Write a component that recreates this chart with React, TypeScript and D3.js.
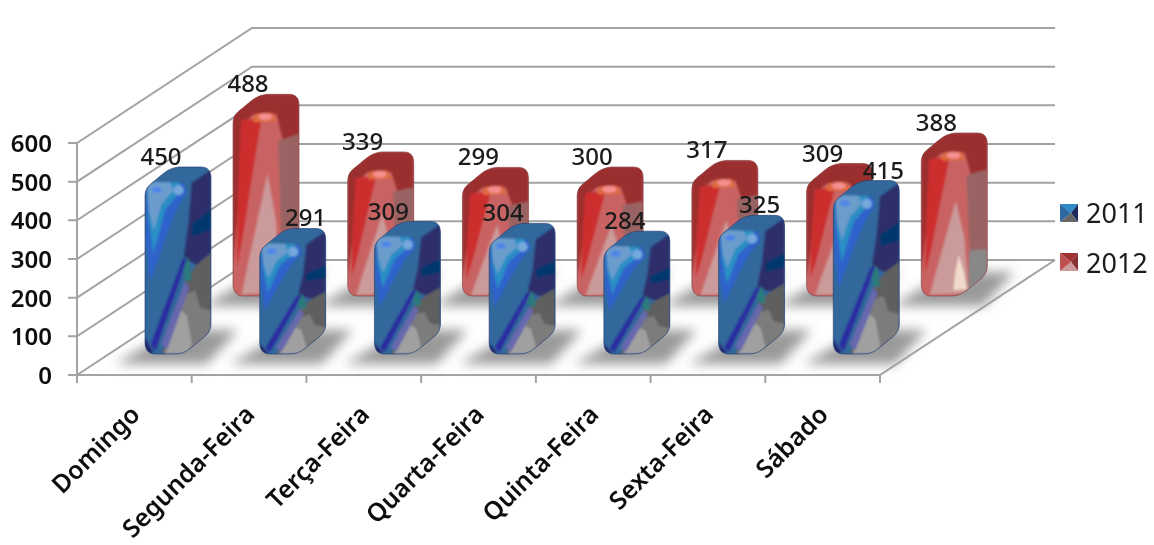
import React from "react";
import * as d3 from "d3";

const categories = ["Domingo", "Segunda-Feira", "Terça-Feira", "Quarta-Feira", "Quinta-Feira", "Sexta-Feira", "Sábado"];
const values2011 = [450, 291, 309, 304, 284, 325, 415];
const values2012 = [488, 339, 299, 300, 317, 309, 388];
const yTicks = [0, 100, 200, 300, 400, 500, 600];
const seriesNames = ["2011", "2012"];

// Layout of the pseudo-3D box
const AX_L = 77, AX_R = 880, AX_B = 375, AX_T = 143;
const WALL_DX = 175, WALL_DY = -115;
const BAR_W = 66, BAR_DY = 13, BAR_OFFSET = 68;
const SERIES_DX = 88, SERIES_DY = -57, BAR_BASE = 354;
const labelShift2011 = [16, 46, 14, 14, 21, 41, 50];
const labelShift2012 = [15, 15, 16, 15, 15, 16, 15];

const x = d3.scaleBand<string>().domain(categories).range([AX_L, AX_R]).paddingInner(0).paddingOuter(0);
const y = d3.scaleLinear().domain([0, 600]).range([AX_B, AX_T]);
const hgt = (v: number) => AX_B - y(v);
const line = d3.line<[number, number]>();

type Patch = { fill: string; pts: [number, number][] };

// Shading templates: a reference bar of 197 x 560 units
const bluePatches: Patch[] = [
  { fill: "#2e63cc", pts: [[4, 62], [30, 48], [115, 48], [125, 75], [95, 125], [60, 215], [16, 345], [3, 220]] },
  { fill: "#2c8fc4", pts: [[6, 58], [30, 46], [105, 46], [100, 78], [60, 130], [25, 260], [10, 150]] },
  { fill: "#6c9ccc", pts: [[6, 55], [30, 44], [75, 46], [85, 70], [50, 110], [26, 190], [12, 130]] },
  { fill: "#2e2f6b", pts: [[140, 48], [197, 8], [197, 258], [155, 293], [115, 273], [130, 170]] },
  { fill: "#00386e", pts: [[140, 170], [197, 128], [197, 188], [140, 208]] },
  { fill: "#5e5e5e", pts: [[122, 335], [155, 293], [197, 258], [197, 500], [125, 560], [50, 560]] },
  { fill: "#7c7c7c", pts: [[108, 385], [150, 370], [165, 420], [197, 430], [197, 500], [125, 560], [55, 560]] },
  { fill: "#a0a0a0", pts: [[98, 420], [125, 445], [140, 530], [125, 560], [60, 560]] },
  { fill: "#6868ae", pts: [[120, 340], [132, 362], [66, 548], [48, 530]] },
  { fill: "#2c7c7c", pts: [[110, 265], [130, 275], [140, 340], [120, 340]] },
  { fill: "#2b2ba0", pts: [[115, 270], [125, 275], [30, 552], [18, 530]] },
  { fill: "#25256f", pts: [[0, 510], [25, 556], [8, 560], [0, 540]] },
];

const redPatches: Patch[] = [
  { fill: "#9b2f2f", pts: [[0, 60], [75, 0], [197, 0], [197, 125], [150, 140], [130, 60], [60, 60], [30, 90], [15, 320], [0, 480]] },
  { fill: "#9a6464", pts: [[135, 135], [197, 115], [197, 420], [145, 430]] },
  { fill: "#888888", pts: [[143, 400], [197, 395], [197, 510], [140, 560]] },
  { fill: "#cc2f2f", pts: [[24, 78], [85, 72], [62, 200], [32, 380], [12, 480], [14, 300]] },
  { fill: "#df6a40", pts: [[58, 74], [70, 58], [118, 56], [132, 80], [65, 84]] },
  { fill: "#cb9a9a", pts: [[103, 225], [128, 350], [142, 550], [26, 556], [38, 500]] },
  { fill: "#f1dacc", pts: [[112, 415], [128, 480], [136, 535], [96, 540], [102, 470]] },
];

function mapPt(L: number, T: number, H: number, p: [number, number]): [number, number] {
  const px = L + (p[0] / 197) * BAR_W;
  const yy = p[1] <= 80 ? p[1] / 3 : 80 / 3 + ((p[1] - 80) / 480) * (H - 80 / 3);
  return [px, T + yy];
}

function outline(L: number, T: number, B: number) {
  const R = L + BAR_W;
  return [
    `M${L},${T + 30}`,
    `C${L},${T + 22} ${L + 3},${T + 19} ${L + 8},${T + 15}`,
    `C${L + 16},${T + 9} ${L + 22},${T + 1} ${L + 34},${T}`,
    `L${L + 56},${T}`,
    `C${R - 3},${T} ${R},${T + 4} ${R},${T + 11}`,
    `L${R},${B - 30}`,
    `C${R},${B - 23} ${R - 4},${B - 19} ${R - 9},${B - 15}`,
    `C${L + 46},${B - 7} ${L + 42},${B} ${L + 30},${B}`,
    `L${L + 10},${B}`,
    `C${L + 3},${B} ${L},${B - 5} ${L},${B - 12}`,
    "Z",
  ].join(" ");
}

function Bar({ id, L, B, value, base, rim, patches, red }: any) {
  const T = B - hgt(value) - BAR_DY;
  const H = B - T;
  const d = outline(L, T, B);
  const hl = mapPt(L, T, H, red ? [96, 67] : [35, 68]);
  const hl2 = mapPt(L, T, H, [100, 70]);
  return (
    <g>
      <clipPath id={id}><path d={d} /></clipPath>
      <path d={d} fill={base} />
      <g clipPath={`url(#${id})`}>
        <g filter="url(#patchSoft)">
          {patches.map((p: Patch, i: number) => (
            <path key={i} d={line(p.pts.map((q) => mapPt(L, T, H, q)))! + "Z"} fill={p.fill} />
          ))}
          <ellipse cx={hl[0]} cy={hl[1]} rx={red ? 7 : 5} ry={red ? 3.5 : 3} fill={red ? "#f58f8f" : "#4f86e8"} />
          {!red && <ellipse cx={hl2[0]} cy={hl2[1]} rx={5} ry={5} fill="#74a8dc" />}
        </g>
      </g>
      <path d={d} fill="none" stroke={rim} strokeWidth={1} strokeOpacity={0.6} />
    </g>
  );
}

function Shadow({ L, B }: { L: number; B: number }) {
  const pts: [number, number][] = [[L - 30, B + 10], [L + 62, B + 10], [L + 93, B - 24], [L + 30, B - 24]];
  return <path d={line(pts)! + "Z"} fill="#9a9a9a" filter="url(#shadowBlur)" />;
}

function Swatch({ sx, sy, c }: { sx: number; sy: number; c: string[] }) {
  const s = 18, m: [number, number] = [sx + s / 2 + 2, sy + s / 2];
  const a: [number, number] = [sx, sy], b: [number, number] = [sx + s, sy], e: [number, number] = [sx + s, sy + s], f: [number, number] = [sx, sy + s];
  return (
    <g>
      <path d={line([a, b, m])! + "Z"} fill={c[0]} />
      <path d={line([b, e, m])! + "Z"} fill={c[1]} />
      <path d={line([e, f, m])! + "Z"} fill={c[2]} />
      <path d={line([f, a, m])! + "Z"} fill={c[3]} />
    </g>
  );
}

export default function App() {
  const gridColor = "#a3a3a3";
  const font = "'Noto Sans', 'Open Sans', sans-serif";
  const blueBars = values2011.map((v, i) => ({ v, L: x(categories[i])! + BAR_OFFSET, B: BAR_BASE, shift: labelShift2011[i] }));
  const redBars = values2012.map((v, i) => ({ v, L: x(categories[i])! + BAR_OFFSET + SERIES_DX, B: BAR_BASE + SERIES_DY - 1, shift: labelShift2012[i] }));
  return (
    <svg width={1154} height={545} style={{ position: "absolute", left: 0, top: 0, background: "#fff" }}>
      <defs>
        <filter id="shadowBlur" x="-30%" y="-60%" width="160%" height="220%"><feGaussianBlur stdDeviation={6} /></filter>
        <filter id="soft" x="-2%" y="-2%" width="104%" height="104%"><feGaussianBlur stdDeviation={0.6} /></filter>
        <filter id="patchSoft" x="-10%" y="-10%" width="120%" height="120%"><feGaussianBlur stdDeviation={1.1} /></filter>
        <clipPath id="pageClip"><rect x={10} y={0} width={1144} height={545} /></clipPath>
      </defs>
      <g clipPath="url(#pageClip)">
      <g filter="url(#soft)">
        {yTicks.map((t) => (
          <path key={t} fill="none" stroke={gridColor} strokeWidth={2}
            d={line([[AX_L - 9, y(t)], [AX_L, y(t)], [AX_L + WALL_DX, y(t) + WALL_DY], [AX_R + WALL_DX, y(t) + WALL_DY]])!} />
        ))}
        <path fill="none" stroke={gridColor} strokeWidth={2}
          d={line([[AX_L, AX_T], [AX_L, AX_B + 8]])!} />
        <path fill="none" stroke={gridColor} strokeWidth={2}
          d={line([[AX_L, AX_B], [AX_R, AX_B], [AX_R + WALL_DX, AX_B + WALL_DY]])!} />
        {categories.map((c) => (
          <line key={c} x1={x(c)!} x2={x(c)!} y1={AX_B} y2={AX_B + 8} stroke={gridColor} strokeWidth={2} />
        ))}
        <line x1={AX_R} x2={AX_R} y1={AX_B} y2={AX_B + 8} stroke={gridColor} strokeWidth={2} />

        {redBars.map((b, i) => <Shadow key={i} L={b.L} B={b.B} />)}
        {redBars.map((b, i) => (
          <Bar key={i} id={`r${i}`} L={b.L} B={b.B} value={b.v} base="#c96464" rim="#7a3a3a" patches={redPatches} red />
        ))}
        {blueBars.map((b, i) => <Shadow key={i} L={b.L} B={b.B} />)}
        {blueBars.map((b, i) => (
          <Bar key={i} id={`b${i}`} L={b.L} B={b.B} value={b.v} base="#31689b" rim="#1f3a70" patches={bluePatches} />
        ))}

        {redBars.map((b, i) => (
          <text key={i} x={b.L + b.shift} y={b.B - hgt(b.v) - BAR_DY - 2} textAnchor="middle"
            fontFamily={font} fontSize={24} fontWeight={500} fill="#1a1a1a">{b.v}</text>
        ))}
        {blueBars.map((b, i) => (
          <text key={i} x={b.L + b.shift} y={b.B - hgt(b.v) - BAR_DY - 2} textAnchor="middle"
            fontFamily={font} fontSize={24} fontWeight={500} fill="#1a1a1a">{b.v}</text>
        ))}

        {yTicks.map((t) => (
          <text key={t} x={52} y={y(t) + 9} textAnchor="end" fontFamily={font} fontSize={24} fontWeight={600} fill="#111">{t}</text>
        ))}
        {categories.map((c) => (
          <text key={c} textAnchor="end" fontFamily={font} fontSize={25} fontWeight={600} fill="#111"
            transform={`translate(${x(c)! + x.bandwidth() / 2 + 7},${AX_B + 41}) rotate(-45)`}>{c}</text>
        ))}

        <Swatch sx={1060} sy={204} c={["#2e8ac8", "#1e2a60", "#666666", "#2f68a0"]} />
        <Swatch sx={1060} sy={253} c={["#a03030", "#8a3030", "#cb9a9a", "#c05050"]} />
        {seriesNames.map((n, i) => (
          <text key={n} x={1086} y={223 + i * 50} fontFamily={font} fontSize={27} fill="#1a1a1a">{n}</text>
        ))}
      </g>
      </g>
    </svg>
  );
}
